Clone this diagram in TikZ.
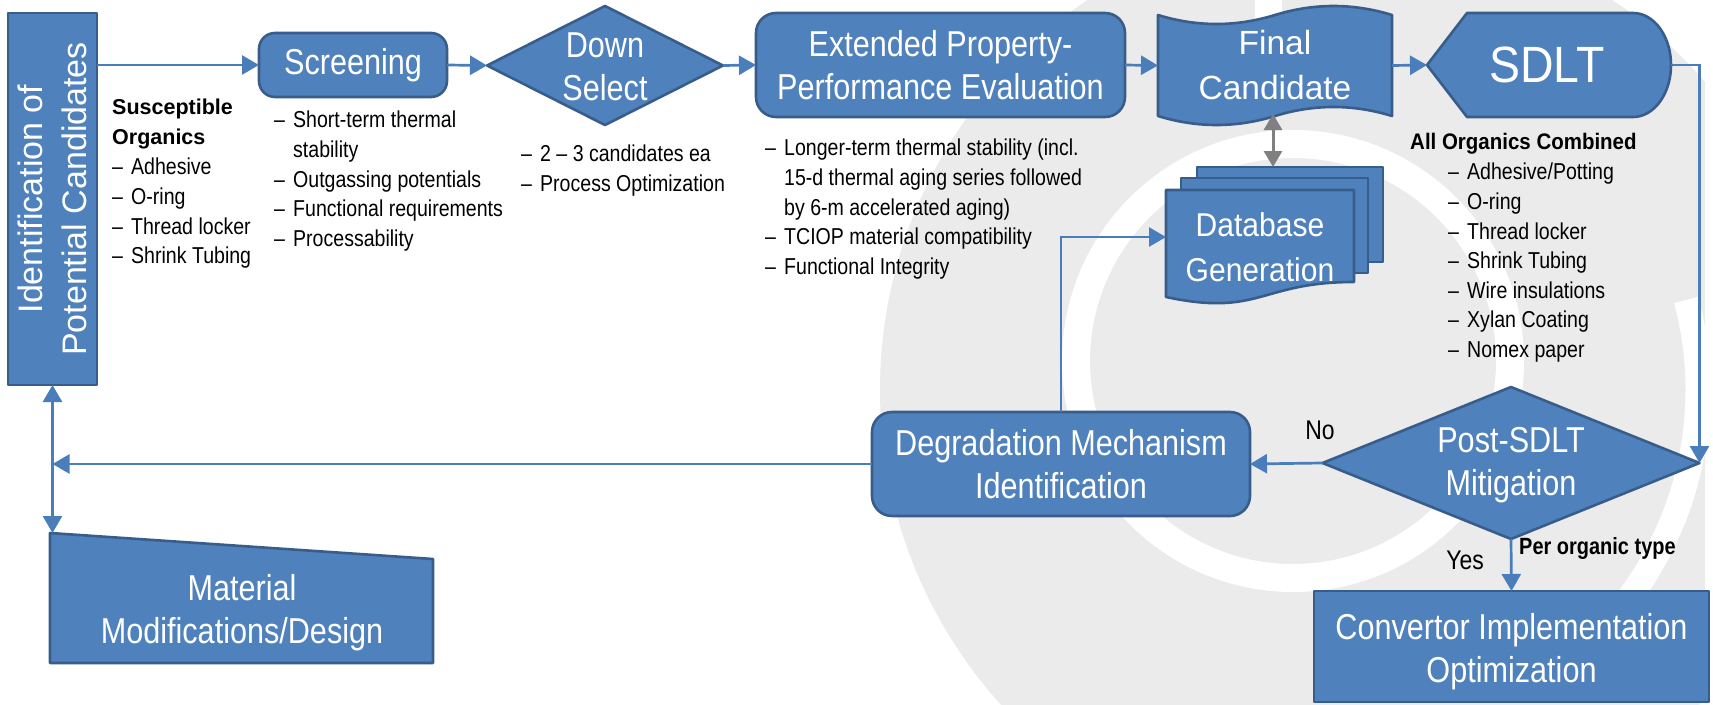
\documentclass[tikz,border=0pt]{standalone}
\usepackage{fontspec}
\setmainfont{Liberation Sans}
\newfontfamily\cf[FakeStretch=0.85]{Liberation Sans}
\newfontfamily\cfn[FakeStretch=0.91]{Liberation Sans}
\usetikzlibrary{arrows.meta,shapes.geometric}
\definecolor{boxblue}{RGB}{79,129,189}
\definecolor{boxborder}{RGB}{56,93,138}
\definecolor{lineblue}{RGB}{74,126,187}
\definecolor{wmgray}{RGB}{235,235,235}
\definecolor{arrgray}{RGB}{128,128,128}
\newcommand\itm{\makebox[19pt][l]{–}}
\newcommand\cnt{\hspace*{19pt}}
\begin{document}
\begin{tikzpicture}[x=1pt,y=-1pt,
  shp/.style={fill=boxblue,draw=boxborder,line width=2.6pt,line join=round},
  area/.style={inner sep=0pt,outer sep=0pt},
  conn/.style={draw=lineblue,line width=2.7pt,-{Triangle[length=17pt,width=19pt]}},
  dconn/.style={draw=lineblue,line width=2.7pt,{Triangle[length=17pt,width=19pt]}-{Triangle[length=17pt,width=19pt]}},
  gconn/.style={draw=arrgray,line width=3pt,{Triangle[length=16pt,width=18pt]}-{Triangle[length=16pt,width=18pt]}},
  btxt/.style={text=white,font=\cf\fontsize{36}{43}\selectfont,align=center,inner sep=0pt},
  ltxt/.style={text=black,font=\cf\fontsize{23}{29.6}\selectfont,align=left,inner sep=0pt,anchor=north west},
  hdr/.style={text=black,align=left,inner sep=0pt,anchor=north west},
  lbl/.style={text=black,font=\cf\fontsize{27}{30}\selectfont,inner sep=0pt},
  wm/.style={white,line width=#1},
]
\useasboundingbox (0,0) rectangle (1713,704);
\fill[white] (0,0) rectangle (1713,704);
% watermark
\begin{scope}
\clip (0,0) rectangle (1705,704);
\fill[wmgray] (1350,390) circle [radius=470];
\end{scope}
\draw[wm=28pt] (1293,361) circle [radius=217];
\draw[wm=25pt] (1350,390) ++(-15:348) arc (-15:40:348);
\draw[wm=27pt] (1268,-5) -- (1268,110);

% identification
\node[shp,area,minimum width=89,minimum height=372] (ident) at (52.5,199) {};
\node[rotate=90,text=white,font=\fontsize{34}{44}\selectfont,align=center,inner sep=0pt] at (ident) {Identification of\\Potential Candidates};

% screening
\node[shp,area,rounded corners=16pt,minimum width=188,minimum height=64,btxt] (scr) at (353,65) {Screening};

% down select
\node[shp,area,diamond,minimum width=236,minimum height=119] (down) at (605,65.5) {};
\node[btxt] at (605,66.5) {Down\\Select};

% extended
\node[shp,area,rounded corners=20pt,minimum width=369,minimum height=104,btxt] (ext) at (940.5,65) {Extended Property-\\Performance Evaluation};

% final candidate (punched tape)
\draw[shp] (1158,15) .. controls (1197,27) and (1236,27) .. (1275,15)
  .. controls (1314,3) and (1353,3) .. (1392,15) -- (1392,116)
  .. controls (1353,104) and (1314,104) .. (1275,116)
  .. controls (1236,128) and (1197,128) .. (1158,116) -- cycle;
\node[area,minimum width=234,minimum height=101] (fc) at (1275,65.5) {};
\node[text=white,font=\fontsize{33.5}{45}\selectfont,align=center,inner sep=0pt] at (1275,65.5) {Final\\Candidate};
\coordinate (fcb) at (1273,114);

% SDLT display
\draw[shp] (1427,65) -- (1467,13) -- (1633,13) arc (-90:90:38 and 52) -- (1467,117) -- cycle;
\node[area,minimum width=244,minimum height=104] (sdlt) at (1549,65) {};
\node[text=white,font=\cfn\fontsize{51}{55}\selectfont,inner sep=0pt] at (1547,65) {SDLT};

% database (multidocument)
\draw[shp] (1197,167) rectangle (1383,262);
\draw[shp] (1181,178) rectangle (1368,273);
\draw[shp] (1166,190) -- (1354,190) -- (1354,282) .. controls (1260,282) and (1260,317) .. (1166,297) -- cycle;
\node[area,minimum width=186,minimum height=95] (dbback) at (1290,214.5) {};
\node[area,minimum width=188,minimum height=94] (db) at (1260,237) {};
\node[text=white,font=\cfn\fontsize{33}{45}\selectfont,align=center,inner sep=0pt] at (1260,247.5) {Database\\Generation};

% degradation
\node[shp,area,rounded corners=20pt,minimum width=378,minimum height=104,btxt] (deg) at (1061,464) {Degradation Mechanism\\Identification};

% post-SDLT
\node[shp,area,diamond,minimum width=377,minimum height=152] (post) at (1511,463) {};
\node[btxt] at (1511,465) {Post-SDLT\\Mitigation};

% convertor
\node[shp,area,minimum width=395,minimum height=111] (conv) at (1511.5,646.5) {};
\node[btxt] at (1511.5,651.5) {Convertor Implementation\\Optimization};

% material
\draw[shp] (50,533) -- (433,559) -- (433,663) -- (50,663) -- cycle;
\node[area,minimum width=383,minimum height=130] (mat) at (241.5,598) {};
\node[btxt] at (242,612.5) {Material\\Modifications/Design};

% texts
\node[hdr,font=\bfseries\fontsize{21.5}{29.6}\selectfont] (t0) at (112,99) {Susceptible\\Organics};
\node[ltxt] (t1) at (112,158) {\itm Adhesive\\\itm O-ring\\\itm Thread locker\\\itm Shrink Tubing};
\node[ltxt] (t2) at (274,111) {\itm Short-term thermal\\\cnt stability\\\itm Outgassing potentials\\\itm Functional requirements\\\itm Processability};
\node[ltxt] (t3) at (521,145) {\itm 2 – 3 candidates ea\\\itm Process Optimization};
\node[ltxt] (t4) at (765,139) {\itm Longer-term thermal stability (incl.\\\cnt 15-d thermal aging series followed\\\cnt by 6-m accelerated aging)\\\itm TCIOP material compatibility\\\itm Functional Integrity};
\node[hdr,font=\cfn\bfseries\fontsize{22.5}{29.6}\selectfont] (t5) at (1410,133) {All Organics Combined};
\node[ltxt] (t6) at (1448,163) {\itm Adhesive/Potting\\\itm O-ring\\\itm Thread locker\\\itm Shrink Tubing\\\itm Wire insulations\\\itm Xylan Coating\\\itm Nomex paper};
\node[lbl] (no) at (1320,430) {No};
\node[lbl] (yes) at (1465,560) {Yes};
\node[text=black,font=\cf\bfseries\fontsize{23.5}{26}\selectfont,inner sep=0pt,anchor=west] (per) at (1519,548) {Per organic type};

% connectors
\draw[conn] (ident.east |- scr.west) -- (scr.west);
\draw[conn] (scr.east) -- (down.west);
\draw[conn] (down.east) -- (ext.west);
\draw[conn] (ext.east) -- (fc.west);
\draw[conn] (fc.east) -- (sdlt.west);
\draw[conn] (sdlt.east) -| (post.east);
\draw[conn] (post.west) -- (deg.east);
\draw[conn] (post.south) -- (conv.north);
\draw[conn] (deg.west) -- (ident.south |- deg.west);
\draw[dconn] (ident.south) -- (ident.south |- mat.north);
\draw[conn] (deg.north) |- (db.west);
\draw[gconn] (fcb) -- (fcb |- dbback.north);
\end{tikzpicture}
\end{document}
